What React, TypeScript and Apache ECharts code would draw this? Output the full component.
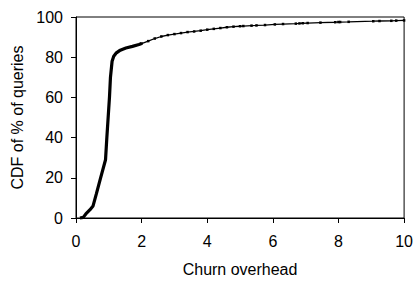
import React, { useEffect, useRef } from "react";
import * as echarts from "echarts";

const xTicks = [0, 2, 4, 6, 8, 10];
const yTicks = [0, 20, 40, 60, 80, 100];

// steep head of the CDF (drawn thick)
const headX = [0.12, 0.22, 0.3, 0.42, 0.52, 0.62, 0.75, 0.9, 0.94, 1.0, 1.02, 1.05, 1.1, 1.15, 1.22, 1.35, 1.52, 1.72, 1.92, 2.0];
const headY = [0, 0.3, 2, 4, 6, 12, 20, 29, 40, 55, 60, 70, 78, 80.5, 82, 83.5, 84.6, 85.4, 86.3, 86.8];

// long tail of the CDF (thin with point markers)
const tailX = [2.0, 2.2, 2.4, 2.6, 2.8, 3.0, 3.2, 3.4, 3.6, 3.8, 4.0, 4.2, 4.4, 4.6, 4.8, 5.0, 5.1, 5.35, 5.5, 5.76, 6.06, 6.31, 6.7, 6.81, 6.91, 7.06, 7.45, 7.9, 8.0, 8.05, 8.31, 9.06, 9.25, 9.61, 9.76, 10.0];
const tailY = [86.8, 88.0, 89.3, 90.3, 91.0, 91.5, 92.0, 92.5, 92.8, 93.2, 93.7, 94.1, 94.5, 94.9, 95.2, 95.4, 95.5, 95.7, 95.8, 96.0, 96.3, 96.5, 96.7, 96.8, 96.9, 97.0, 97.2, 97.4, 97.5, 97.5, 97.6, 97.9, 98.0, 98.1, 98.2, 98.3];

const xTitle = "Churn overhead";
const yTitle = "CDF of % of queries";

export default function App() {
  const ref = useRef<HTMLDivElement>(null);
  useEffect(() => {
    if (!ref.current) return;
    const chart = echarts.init(ref.current, null, { renderer: "svg" });
    const font = "Liberation Sans, Arial, sans-serif";
    chart.setOption({
      animation: false,
      backgroundColor: "#fff",
      grid: {
        left: 76,
        right: 7,
        top: 17,
        bottom: 63,
        show: true,
        borderColor: "#000",
        borderWidth: 1,
        backgroundColor: "transparent",
      },
      xAxis: {
        type: "value",
        min: xTicks[0],
        max: xTicks[xTicks.length - 1],
        interval: 2,
        name: xTitle,
        nameLocation: "middle",
        nameGap: 43,
        nameTextStyle: { fontFamily: font, fontSize: 16, color: "#000" },
        axisLine: { show: true, lineStyle: { color: "#000", width: 1 } },
        axisTick: { show: true, inside: false, length: 5, lineStyle: { color: "#000" } },
        axisLabel: { fontFamily: font, fontSize: 16, color: "#000", margin: 15 },
        splitLine: { show: false },
      },
      yAxis: {
        type: "value",
        min: yTicks[0],
        max: yTicks[yTicks.length - 1],
        interval: 20,
        name: yTitle,
        nameLocation: "middle",
        nameGap: 49,
        nameTextStyle: { fontFamily: font, fontSize: 16, color: "#000" },
        axisLine: { show: true, lineStyle: { color: "#000", width: 1 } },
        axisTick: { show: true, inside: false, length: 5, lineStyle: { color: "#000" } },
        axisLabel: { fontFamily: font, fontSize: 16, color: "#000", margin: 13 },
        splitLine: { show: false },
      },
      series: [
        {
          type: "line",
          data: headX.map((x, i) => [x, headY[i]]),
          showSymbol: false,
          symbol: "none",
          lineStyle: { color: "#000", width: 3.2 },
          clip: false,
        },
        {
          type: "line",
          data: tailX.map((x, i) => [x, tailY[i]]),
          symbol: "rect",
          symbolSize: 2.5,
          itemStyle: { color: "#000" },
          lineStyle: { color: "#000", width: 1.3 },
          clip: false,
        },
      ],
    });
    return () => chart.dispose();
  }, []);
  return <div ref={ref} style={{ width: 416, height: 282, position: "absolute", left: 0, top: 0 }} />;
}
